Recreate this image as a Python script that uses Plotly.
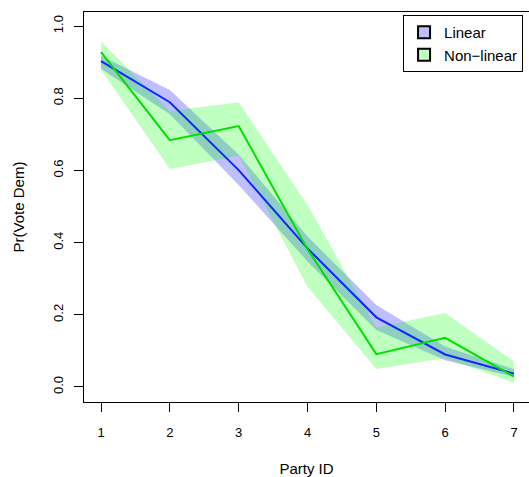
import plotly.graph_objects as go

# Party ID scale points
party_id = [1, 2, 3, 4, 5, 6, 7]

# Linear model: predicted probability and 95% band
linear_fit = [0.903, 0.789, 0.601, 0.384, 0.193, 0.090, 0.037]
linear_lo = [0.882, 0.756, 0.560, 0.348, 0.158, 0.074, 0.028]
linear_hi = [0.918, 0.823, 0.644, 0.417, 0.227, 0.112, 0.049]

# Non-linear model: predicted probability and 95% band
nonlin_fit = [0.928, 0.684, 0.723, 0.382, 0.091, 0.136, 0.029]
nonlin_lo = [0.880, 0.604, 0.641, 0.278, 0.050, 0.080, 0.012]
nonlin_hi = [0.957, 0.765, 0.789, 0.504, 0.165, 0.205, 0.071]

x_ticks = [1, 2, 3, 4, 5, 6, 7]
y_ticks = [0.0, 0.2, 0.4, 0.6, 0.8, 1.0]
y_tick_text = ["0.0", "0.2", "0.4", "0.6", "0.8", "1.0"]

BLUE_LINE = "#0a28ff"
GREEN_LINE = "#00e000"
BLUE_FILL = "rgba(0,0,255,0.25)"
GREEN_FILL = "rgba(0,255,0,0.25)"
FONT = "Liberation Sans, Arial, Helvetica, sans-serif"

fig = go.Figure()

# confidence bands
fig.add_trace(go.Scatter(x=party_id, y=linear_lo, mode="lines", line=dict(width=0),
                         showlegend=False, hoverinfo="skip"))
fig.add_trace(go.Scatter(x=party_id, y=linear_hi, mode="lines", line=dict(width=0),
                         fill="tonexty", fillcolor=BLUE_FILL, showlegend=False, hoverinfo="skip"))
fig.add_trace(go.Scatter(x=party_id, y=nonlin_lo, mode="lines", line=dict(width=0),
                         showlegend=False, hoverinfo="skip"))
fig.add_trace(go.Scatter(x=party_id, y=nonlin_hi, mode="lines", line=dict(width=0),
                         fill="tonexty", fillcolor=GREEN_FILL, showlegend=False, hoverinfo="skip"))

# fitted lines
fig.add_trace(go.Scatter(x=party_id, y=linear_fit, mode="lines",
                         line=dict(color=BLUE_LINE, width=2), showlegend=False))
fig.add_trace(go.Scatter(x=party_id, y=nonlin_fit, mode="lines",
                         line=dict(color=GREEN_LINE, width=2), showlegend=False))

# legend keys: filled squares with black outline
fig.add_trace(go.Scatter(x=[None], y=[None], mode="markers", name="Linear",
                         marker=dict(symbol="square", size=11, color="#bfbfff",
                                     line=dict(color="black", width=1))))
fig.add_trace(go.Scatter(x=[None], y=[None], mode="markers", name="Non\u2212linear",
                         marker=dict(symbol="square", size=11, color="#bfffbf",
                                     line=dict(color="black", width=1))))

fig.update_layout(
    width=529, height=477,
    margin=dict(l=84, r=0, t=12, b=75),
    paper_bgcolor="white", plot_bgcolor="white",
    font=dict(family=FONT, size=13, color="black"),
    showlegend=True,
    legend=dict(x=0.717, y=0.992, xanchor="left", yanchor="top",
                traceorder="normal",
                bgcolor="white", bordercolor="black", borderwidth=1,
                font=dict(family=FONT, size=15, color="black"),
                itemsizing="constant", tracegroupgap=0),
    xaxis=dict(range=[0.753, 7.218], tickvals=x_ticks, ticks="outside", ticklen=9,
               tickcolor="black", showline=True, linecolor="black", linewidth=1,
               mirror=True, showgrid=False, zeroline=False,
               tickfont=dict(size=13), ticklabelstandoff=9,
               title=dict(text="Party ID", font=dict(size=15), standoff=24)),
    yaxis=dict(range=[-0.0416, 1.039], tickvals=y_ticks, ticktext=y_tick_text,
               ticks="outside", ticklen=9, tickcolor="black", tickangle=-90,
               showline=True, linecolor="black", linewidth=1, mirror=False,
               showgrid=False, zeroline=False, tickfont=dict(size=13),
               ticklabelstandoff=6,
               title=dict(text="Pr(Vote Dem)", font=dict(size=15), standoff=22)),
)

fig.write_html("out.html")
